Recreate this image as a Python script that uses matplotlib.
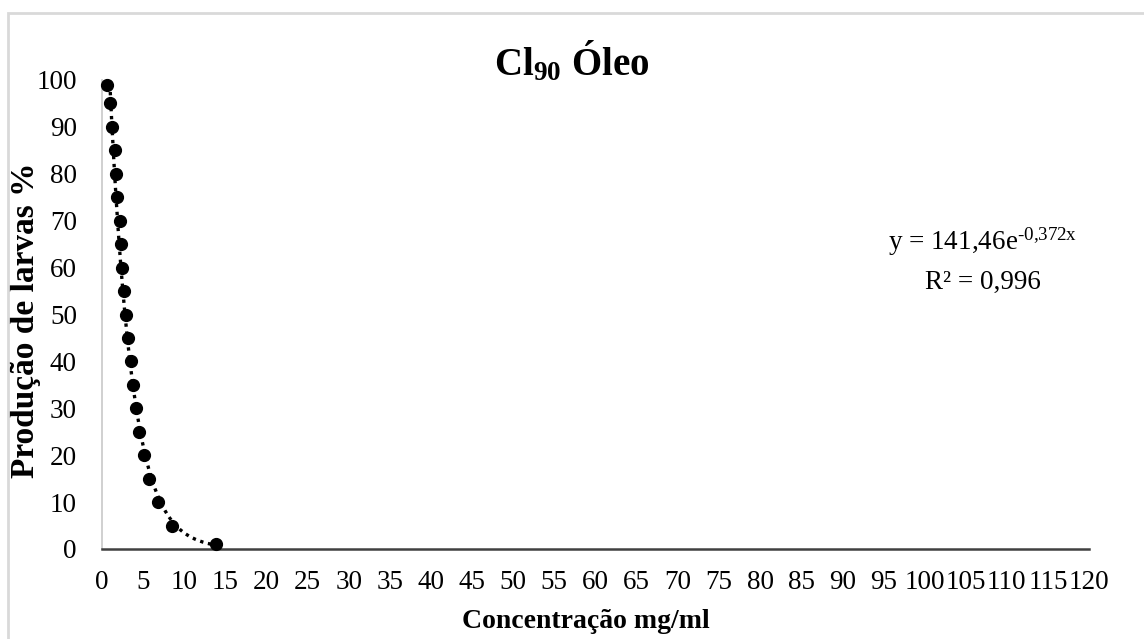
import numpy as np
import matplotlib
matplotlib.use("Agg")
import matplotlib.pyplot as plt
from matplotlib.patches import Rectangle

# Concentration (mg/ml) and larval production (%)
concentracao = [0.65, 0.97, 1.25, 1.58, 1.70, 1.86, 2.19, 2.27, 2.39, 2.71, 2.88,
                3.20, 3.49, 3.81, 4.09, 4.52, 5.12, 5.73, 6.82, 8.57, 13.8]
producao = [99, 95, 90, 85, 80, 75, 70, 65, 60, 55, 50,
            45, 40, 35, 30, 25, 20, 15, 10, 5, 1]

# Exponential trendline coefficients (y = a * e^(b x))
coef_a = 141.46
coef_b = -0.372
r2 = "0,996"

x_ticks = list(range(0, 121, 5))
y_ticks = list(range(0, 101, 10))

plt.rcParams["font.family"] = ["Liberation Serif", "DejaVu Serif"]
plt.rcParams["mathtext.fontset"] = "custom"
plt.rcParams["mathtext.rm"] = "Liberation Serif"
plt.rcParams["mathtext.bf"] = "Liberation Serif:bold"
plt.rcParams["mathtext.it"] = "Liberation Serif:italic"

W, H = 1144, 639
fig = plt.figure(figsize=(W / 100, H / 100), dpi=100)
fig.patch.set_facecolor("white")

# light outer frame of the chart area
fig.patches.append(Rectangle((8 / W, -0.1), 1.2, 1 - 13 / H + 0.1,
                             transform=fig.transFigure, fill=False,
                             edgecolor="#d9d9d9", linewidth=2, zorder=0))

ax_l, ax_r, ax_b, ax_t = 102, 1089, 549, 80
ax = fig.add_axes([ax_l / W, 1 - ax_b / H, (ax_r - ax_l) / W, (ax_b - ax_t) / H])

# trendline over the data range
xt = np.linspace(min(concentracao), max(concentracao), 300)
yt = coef_a * np.exp(coef_b * xt)
ax.plot(xt, yt, color="black", linestyle=(0, (1, 1.4)), linewidth=2.4, zorder=2)

ax.plot(concentracao, producao, linestyle="none", marker="o", markersize=8.5,
        color="black", zorder=3, clip_on=False)

ax.set_xlim(0, 120)
ax.set_ylim(0, 100)
ax.set_xticks(x_ticks)
ax.set_yticks(y_ticks)
ax.set_xticklabels([str(v) for v in x_ticks])
ax.set_yticklabels([str(v) for v in y_ticks])
ax.tick_params(axis="both", length=0, labelsize=19.5)
ax.tick_params(axis="x", pad=15)
ax.tick_params(axis="y", pad=18)

for side in ("top", "right"):
    ax.spines[side].set_visible(False)
ax.spines["left"].set_color("#c8c8c8")
ax.spines["left"].set_linewidth(1.2)
ax.spines["bottom"].set_color("#404040")
ax.spines["bottom"].set_linewidth(1.8)

ax.set_xlabel("Concentração mg/ml", fontsize=20, fontweight="bold")
ax.xaxis.label.set_va("center")
ax.xaxis.set_label_coords((586 - ax_l) / (ax_r - ax_l), -(622 - ax_b) / (ax_b - ax_t))

ax.set_ylabel("Produção de larvas %", fontsize=24, fontweight="bold")
ax.yaxis.label.set_va("center")
ax.yaxis.set_label_coords(-(ax_l - 26) / (ax_r - ax_l), (ax_b - 320) / (ax_b - ax_t))

fig.text(0.5, 1 - 62 / H, r"Cl$_{\mathbf{90}}$ Óleo", ha="center", va="center",
         fontsize=28, fontweight="bold")

eq = r"y = 141,46e$^{\text{-0,372x}}$"
fig.text(983 / W, 1 - 242 / H, eq, ha="center", va="center", fontsize=19.5)
fig.text(983 / W, 1 - 282 / H, "R² = " + r2, ha="center", va="center", fontsize=19.5)

fig.savefig("out.png", dpi=100, facecolor="white")
